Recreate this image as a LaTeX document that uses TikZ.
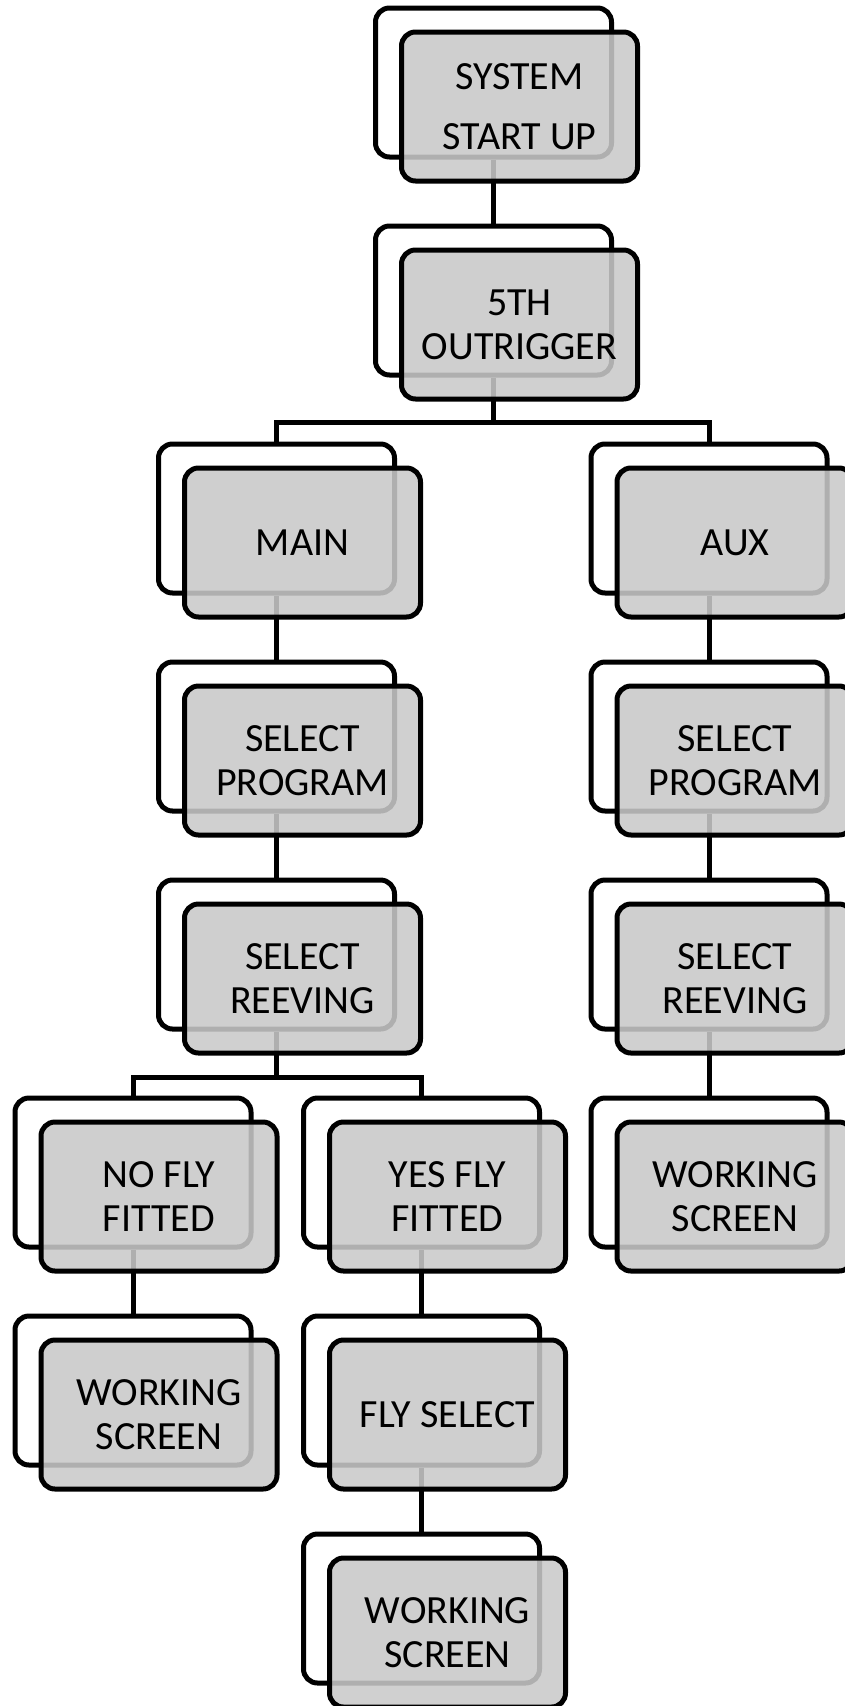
\documentclass[tikz,border=0pt]{standalone}
\usepackage{fontspec}
\setmainfont{Carlito}
\definecolor{boxgray}{RGB}{201,201,201}
\tikzset{
  backbox/.style={draw=black, line width=5pt, fill=white, rounded corners=14pt,
    minimum width=236pt, minimum height=149pt, inner sep=0pt},
  frontbox/.style={draw=black, line width=5pt, fill=boxgray, fill opacity=0.875,
    text opacity=1, rounded corners=14pt, minimum width=236pt, minimum height=149pt,
    inner sep=0pt, align=center, font=\fontsize{40}{44}\selectfont},
  link/.style={draw=black, line width=5pt}
}
\begin{document}
\begin{tikzpicture}[x=1pt,y=-1pt]
\useasboundingbox (0,0) rectangle (844,1706);
% column centres of the rear boxes
\def\cTop{493.5}\def\cMain{276.5}\def\cAux{709}\def\cNo{133}\def\cYes{421.5}
% rear outline boxes
\node[backbox] (sysb)  at (\cTop,82.5) {};
\node[backbox] (outb)  at (\cTop,300.5) {};
\node[backbox] (mainb) at (\cMain,518.5) {};
\node[backbox] (auxb)  at (\cAux,518.5) {};
\node[backbox] (mprogb) at (\cMain,736.5) {};
\node[backbox] (aprogb) at (\cAux,736.5) {};
\node[backbox] (mreevb) at (\cMain,954.5) {};
\node[backbox] (areevb) at (\cAux,954.5) {};
\node[backbox] (nofly) at (\cNo,1172.5) {};
\node[backbox] (yesfly) at (\cYes,1172.5) {};
\node[backbox] (aworkb) at (\cAux,1172.5) {};
\node[backbox] (nworkb) at (\cNo,1390.5) {};
\node[backbox] (flyselb) at (\cYes,1390.5) {};
\node[backbox] (yworkb) at (\cYes,1608.5) {};
% connectors
\coordinate (split1) at (\cTop,422);
\coordinate (split2) at (\cMain,1077);
\draw[link] (sysb.south) -- (outb.north);
\draw[link] (outb.south) -- (split1) -| (mainb.north);
\draw[link] (split1) -| (auxb.north);
\draw[link] (mainb.south) -- (mprogb.north);
\draw[link] (mprogb.south) -- (mreevb.north);
\draw[link] (mreevb.south) -- (split2) -| (nofly.north);
\draw[link] (split2) -| (yesfly.north);
\draw[link] (nofly.south) -- (nworkb.north);
\draw[link] (yesfly.south) -- (flyselb.north);
\draw[link] (flyselb.south) -- (yworkb.north);
\draw[link] (auxb.south) -- (aprogb.north);
\draw[link] (aprogb.south) -- (areevb.north);
\draw[link] (areevb.south) -- (aworkb.north);
% front shaded boxes with the labels
\node[frontbox] (sys)   at ([shift={(26,24)}]sysb.center) {SYSTEM\\[16pt]START UP};
\node[frontbox] (out)   at ([shift={(26,24)}]outb.center) {5TH\\OUTRIGGER};
\node[frontbox] (main)  at ([shift={(26,24)}]mainb.center) {MAIN};
\node[frontbox] (aux)   at ([shift={(26,24)}]auxb.center) {AUX};
\node[frontbox] (mprog) at ([shift={(26,24)}]mprogb.center) {SELECT\\PROGRAM};
\node[frontbox] (aprog) at ([shift={(26,24)}]aprogb.center) {SELECT\\PROGRAM};
\node[frontbox] (mreev) at ([shift={(26,24)}]mreevb.center) {SELECT\\REEVING};
\node[frontbox] (areev) at ([shift={(26,24)}]areevb.center) {SELECT\\REEVING};
\node[frontbox] (noflyf) at ([shift={(26,24)}]nofly.center) {NO FLY\\FITTED};
\node[frontbox] (yesflyf) at ([shift={(26,24)}]yesfly.center) {YES FLY\\FITTED};
\node[frontbox] (awork) at ([shift={(26,24)}]aworkb.center) {WORKING\\SCREEN};
\node[frontbox] (nwork) at ([shift={(26,24)}]nworkb.center) {WORKING\\SCREEN};
\node[frontbox] (flysel) at ([shift={(26,24)}]flyselb.center) {FLY SELECT};
\node[frontbox] (ywork) at ([shift={(26,24)}]yworkb.center) {WORKING\\SCREEN};
\end{tikzpicture}
\end{document}
